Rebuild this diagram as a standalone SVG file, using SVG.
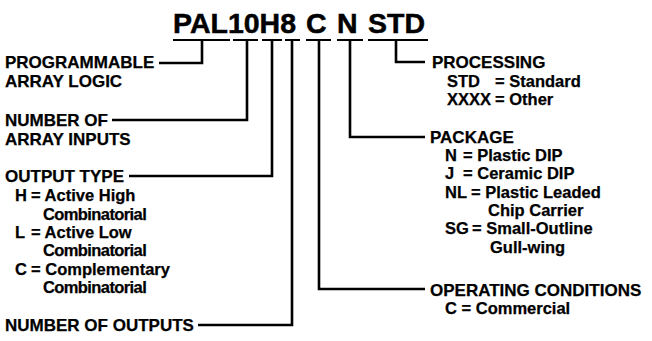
<svg xmlns="http://www.w3.org/2000/svg" width="652" height="341" viewBox="0 0 652 341">
<style>
text{font-family:"Liberation Sans",Arial,sans-serif;font-weight:bold;fill:#000;font-size:16.5px;stroke:#000;stroke-width:0.25}
.h{font-size:17px}
.title{font-size:28.5px;stroke-width:0.5}
.cb{letter-spacing:-0.6px}
.ln{fill:none;stroke:#000;stroke-width:2.6;stroke-linecap:butt;stroke-linejoin:miter}
.ul{fill:none;stroke:#000;stroke-width:2.2}
</style>
<rect width="652" height="341" fill="#fff"/>
<g id="title">
<text class="title" x="173" y="33">PAL10H8</text>
<text class="title" x="306" y="33">C</text>
<text class="title" x="337" y="33">N</text>
<text class="title" x="368" y="33">STD</text>
<path class="ul" d="M173,40H230M233,40H258M262,40H282M285,40H300M306,40H331M337,40H363M368,40H428"/>
</g>
<g id="connectors">
<path class="ln" d="M202,40V63H159"/>
<path class="ln" d="M247,40V120H112"/>
<path class="ln" d="M272,40V176H129"/>
<path class="ln" d="M292,40V325H198"/>
<path class="ln" d="M319,40V289H425"/>
<path class="ln" d="M350,40V137H425"/>
<path class="ln" d="M396,40V62H425"/>
</g>
<g id="programmable">
<text class="h" x="5" y="68">PROGRAMMABLE</text>
<text class="h" x="5" y="87">ARRAY LOGIC</text>
</g>
<g id="inputs">
<text class="h" x="5" y="126">NUMBER OF</text>
<text class="h" x="5" y="145">ARRAY INPUTS</text>
</g>
<g id="outputtype">
<text class="h" x="5" y="182">OUTPUT TYPE</text>
<text x="15" y="201">H</text><text x="31" y="201">= Active High</text>
<text class="cb" x="43" y="219.5">Combinatorial</text>
<text x="15" y="238">L</text><text x="31" y="238">= Active Low</text>
<text class="cb" x="43" y="256">Combinatorial</text>
<text x="15" y="274.5">C</text><text x="31" y="274.5">= Complementary</text>
<text class="cb" x="43" y="293">Combinatorial</text>
</g>
<g id="outputs">
<text class="h" x="5" y="331">NUMBER OF OUTPUTS</text>
</g>
<g id="processing">
<text class="h" x="432" y="68">PROCESSING</text>
<text x="447" y="86.5">STD</text><text x="495" y="86.5">= Standard</text>
<text x="447" y="105">XXXX</text><text x="495" y="105">= Other</text>
</g>
<g id="package">
<text class="h" x="430" y="143">PACKAGE</text>
<text x="445" y="161">N</text><text x="463" y="161">= Plastic DIP</text>
<text x="445" y="179">J</text><text x="463" y="179">= Ceramic DIP</text>
<text x="445" y="197.5">NL</text><text x="471" y="197.5">= Plastic Leaded</text>
<text x="488" y="216">Chip Carrier</text>
<text x="445" y="234">SG</text><text x="472" y="234">= Small-Outline</text>
<text x="490" y="252.5">Gull-wing</text>
</g>
<g id="operating">
<text class="h" x="430" y="296">OPERATING CONDITIONS</text>
<text x="445" y="313.5">C = Commercial</text>
</g>
</svg>
